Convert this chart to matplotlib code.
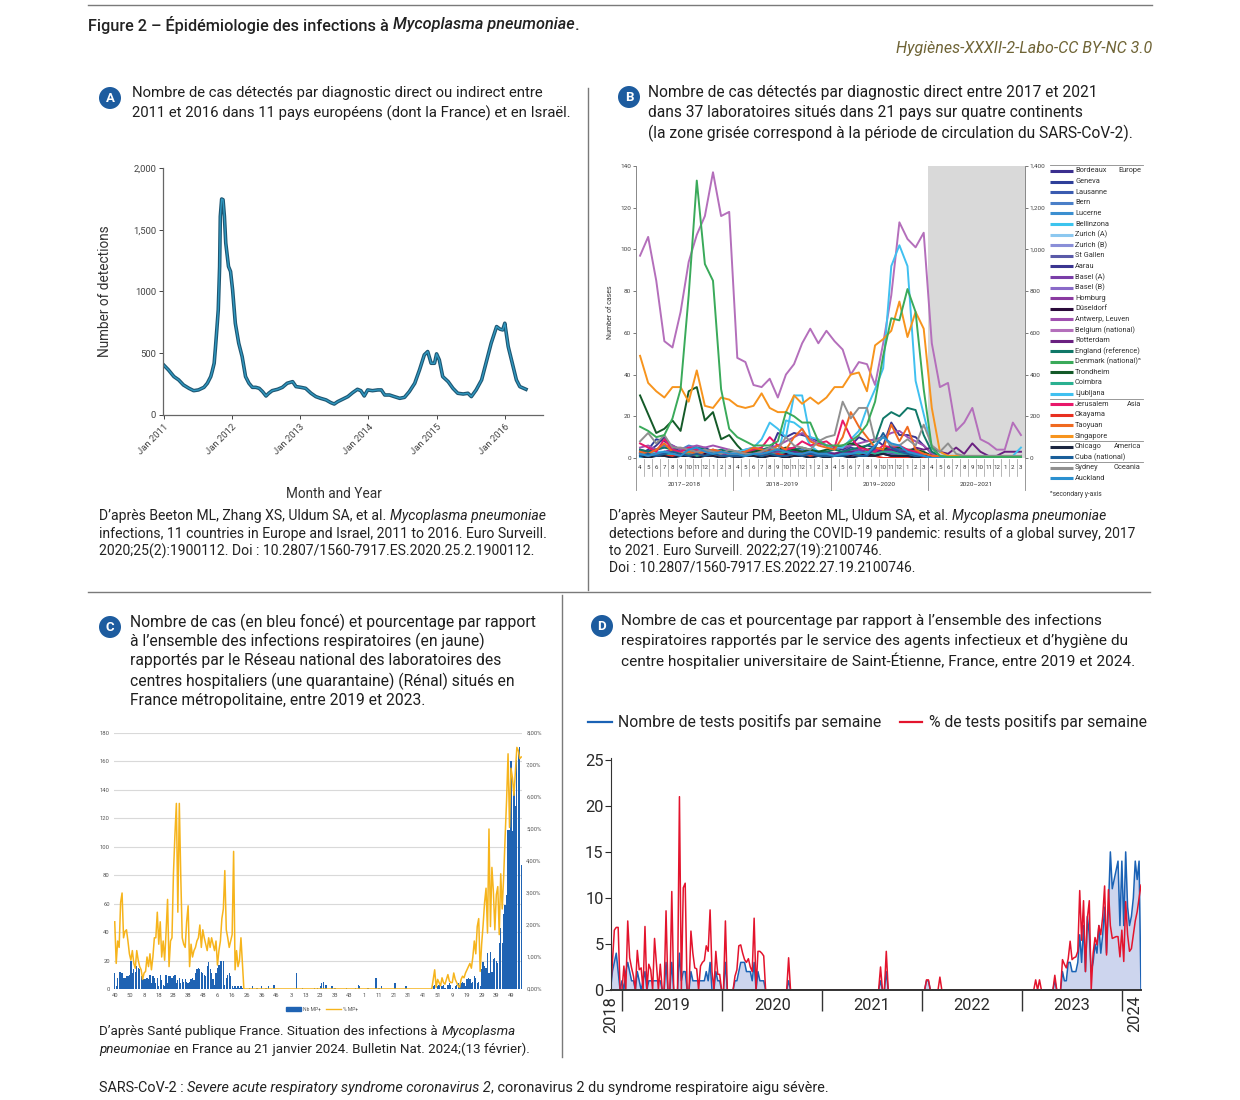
import numpy as np
import pandas as pd
import matplotlib
matplotlib.use('Agg')
import matplotlib.pyplot as plt
from matplotlib import font_manager as fm
from matplotlib.patches import Circle, Patch
from matplotlib.lines import Line2D

W, H = 1240, 1100

# ---------------- panel A : detections 2011-2016 ----------------
a_year = [2011.00, 2011.07, 2011.15, 2011.22, 2011.29, 2011.37, 2011.44, 2011.51, 2011.59, 2011.64,
          2011.69, 2011.71, 2011.74, 2011.76, 2011.78, 2011.80, 2011.82, 2011.83, 2011.85, 2011.87,
          2011.89, 2011.91, 2011.95, 2011.98, 2012.01, 2012.05, 2012.10, 2012.15, 2012.20, 2012.25,
          2012.30, 2012.35, 2012.40, 2012.45, 2012.50, 2012.54, 2012.59, 2012.67, 2012.74, 2012.81,
          2012.89, 2012.94, 2013.01, 2013.08, 2013.16, 2013.23, 2013.30, 2013.38, 2013.45, 2013.50,
          2013.55, 2013.62, 2013.70, 2013.77, 2013.84, 2013.89, 2013.94, 2013.99, 2014.06, 2014.14,
          2014.19, 2014.24, 2014.31, 2014.38, 2014.46, 2014.53, 2014.60, 2014.68, 2014.75, 2014.82,
          2014.87, 2014.92, 2014.97, 2015.00, 2015.04, 2015.09, 2015.17, 2015.24, 2015.31, 2015.39,
          2015.46, 2015.51, 2015.58, 2015.66, 2015.73, 2015.80, 2015.88, 2015.93, 2015.97, 2016.00,
          2016.05, 2016.11, 2016.17, 2016.22, 2016.31]
a_count = [405, 365, 311, 284, 243, 216, 197, 203, 224, 257,
           311, 351, 419, 554, 700, 851, 1203, 1608, 1749, 1743,
           1608, 1392, 1203, 1162, 1014, 743, 581, 473, 311, 257,
           224, 224, 216, 189, 154, 176, 197, 208, 224, 257,
           270, 230, 224, 216, 176, 149, 135, 122, 100, 89,
           108, 127, 149, 181, 208, 197, 154, 203, 197, 203,
           203, 162, 162, 149, 135, 143, 189, 257, 365, 487,
           514, 419, 419, 495, 446, 311, 270, 216, 176, 170,
           176, 149, 203, 284, 432, 581, 716, 695, 689, 743,
           554, 419, 284, 230, 208]
a_years = [2011, 2012, 2013, 2014, 2015, 2016]
a_yticks = [0, 500, 1000, 1500, 2000]
a_ylabels = ['0', '500', '1000', '1,500', '2,000']

# ---------------- panel B : 37 labs, Apr 2017 - Mar 2021 ----------------
b_month_labels = ['4', '5', '6', '7', '8', '9', '10', '11', '12', '1', '2', '3']
b_seasons = ['2017\u20132018', '2018\u20132019', '2019\u20132020', '2020\u20132021']

b_bordeaux = [3,2,1,2,1,1,2,1,1,2,1,2, 1,1,2,1,2,1,1,2,1,2,1,1, 1,2,1,1,2,1,3,2,1,1,2,1, 0,0,0,0,0,0,0,0,0,0,0,0]
b_geneva = [2,4,9,8,6,4,3,4,5,3,2,3, 2,3,4,2,3,3,4,5,3,2,2,3, 2,3,5,4,6,5,3,6,4,3,3,2, 0,0,0,0,0,0,0,0,0,0,0,1]
b_lausanne = [1,2,2,3,2,2,3,2,2,3,2,2, 1,2,2,1,2,2,3,2,2,1,1,2, 2,1,3,2,3,2,4,5,4,3,2,2, 0,0,0,0,0,0,0,0,0,0,0,0]
b_bern = [2,3,4,6,5,4,6,5,4,3,3,2, 2,3,3,4,3,2,3,3,4,3,2,2, 2,2,3,4,3,2,3,4,3,3,2,2, 1,0,0,0,0,0,0,0,0,0,0,0]
b_lucerne = [1,1,2,2,1,2,2,1,2,2,1,1, 1,1,1,2,1,1,2,2,1,1,1,1, 1,1,2,1,2,3,2,2,2,1,1,1, 0,0,0,0,0,0,0,0,0,0,0,0]
b_bellinzona = [0,1,1,2,1,1,1,1,2,1,1,1, 1,1,1,2,1,1,18,17,14,6,3,2, 1,1,1,2,3,4,3,2,2,1,1,1, 0,0,0,0,0,0,0,0,0,0,0,0]
b_zurich_a = [1,1,2,1,1,2,1,1,2,2,1,1, 1,1,1,2,2,1,1,2,2,1,1,1, 1,1,2,2,2,3,2,3,2,2,1,1, 0,0,0,0,0,0,0,0,0,0,0,0]
b_zurich_b = [2,2,3,2,3,3,2,2,3,2,2,2, 1,2,2,3,2,2,2,3,2,2,2,2, 2,2,3,3,3,4,3,3,3,2,2,2, 0,0,0,0,0,0,0,0,0,0,0,0]
b_st_gallen = [1,2,2,1,2,1,2,2,1,1,2,1, 1,1,2,1,1,2,1,2,1,1,1,1, 1,2,2,1,2,2,3,2,2,2,1,1, 0,0,0,0,0,0,0,0,0,0,0,0]
b_aarau = [4,3,6,10,5,3,4,3,4,3,2,3, 2,2,3,4,3,12,10,12,11,10,8,6, 5,4,6,10,8,9,6,17,11,11,10,6, 2,1,0,0,0,0,0,0,0,0,0,0]
b_basel_a = [2,2,3,2,2,3,2,2,3,2,2,2, 1,2,2,2,3,2,3,3,2,2,2,2, 2,2,2,3,3,4,3,3,3,2,2,2, 1,0,0,0,0,0,0,0,0,0,0,0]
b_basel_b = [1,1,2,1,1,2,1,1,1,1,1,1, 1,1,1,1,2,1,1,2,1,1,1,1, 1,1,2,2,2,2,2,3,2,2,1,1, 0,0,0,0,0,0,0,0,0,0,0,0]
b_homburg = [2,3,2,3,4,3,2,3,4,3,3,2, 2,2,3,3,4,3,3,4,3,3,2,2, 2,3,3,4,3,4,3,4,3,3,2,2, 1,1,1,0,1,0,0,0,0,0,0,0]
b_duseldorf = [1,1,1,2,1,1,1,1,2,1,1,1, 1,1,1,1,1,1,2,1,1,1,1,1, 1,1,1,2,1,2,2,1,1,1,1,1, 0,0,0,0,0,0,0,0,0,0,0,0]
b_antwerp = [5,6,4,5,6,4,5,6,5,6,5,4, 3,4,5,4,5,6,8,10,12,9,7,6, 5,5,6,7,8,9,10,12,13,10,8,6, 2,1,1,1,0,0,0,0,0,0,0,0]
b_belgium = [97,106,85,56,53,70,94,107,116,137,116,118, 48,46,35,34,38,29,40,45,55,62,55,61,
             56,52,40,46,45,35,55,78,113,105,101,108, 55,34,36,13,17,24,9,7,4,4,17,11]
b_rotterdam = [3,2,3,2,3,2,3,4,3,2,3,2, 2,2,3,2,3,4,3,3,2,2,3,2, 2,3,3,2,3,3,4,4,3,3,5,4, 5,3,2,5,2,7,3,1,1,3,3,3]
b_england = [4,3,4,5,4,3,4,5,4,3,4,3, 3,3,4,4,5,4,3,4,5,4,3,3, 4,3,4,5,6,8,19,22,20,24,23,11, 3,1,0,0,0,0,0,0,0,0,0,0]
# Denmark on the secondary y-axis
b_denmark = [150,130,100,110,190,330,780,1330,930,850,330,140, 100,80,60,60,60,80,220,200,170,170,80,60,
             60,60,80,110,160,270,490,670,660,810,700,330, 50,10,5,5,5,5,5,5,5,5,5,5]
b_trondheim = [30,21,12,14,18,13,32,34,18,22,9,11, 6,2,3,4,3,4,5,4,3,4,3,4, 5,6,7,6,4,5,4,6,5,4,4,3, 1,0,0,0,0,0,0,0,0,0,0,0]
b_coimbra = [1,1,2,1,2,1,2,1,1,2,1,1, 1,1,2,1,2,2,3,2,2,1,1,1, 1,2,2,2,3,2,3,3,2,2,1,1, 0,0,0,0,0,0,0,0,0,0,0,0]
b_ljubljana = [2,2,3,3,2,3,3,2,3,4,3,2, 3,4,5,9,17,14,10,30,30,10,9,6, 5,5,9,13,24,33,43,92,102,92,37,21, 5,1,1,1,1,1,1,1,1,1,1,5]
b_jerusalem = [7,5,3,9,4,3,5,4,3,4,3,2, 2,3,4,5,10,6,4,5,8,6,7,8, 5,18,10,5,4,3,6,5,6,4,3,2, 1,0,0,0,0,0,0,0,0,0,0,0]
b_okayama = [2,1,2,1,1,2,1,2,1,1,1,1, 1,1,1,2,1,2,1,1,2,1,1,1, 1,1,2,1,1,1,0,0,0,0,0,0, 0,0,0,0,0,0,0,0,0,0,0,0]
b_taoyuan = [3,2,4,7,3,2,3,2,3,4,3,2, 2,3,5,4,3,6,4,10,14,8,6,5, 4,10,22,15,10,5,4,16,8,15,4,2, 1,1,0,1,0,0,0,0,0,0,0,0]
b_singapore = [49,36,32,29,34,34,27,42,25,24,29,28, 25,24,25,31,24,22,22,30,26,29,26,29,
               34,34,40,41,32,54,57,61,75,58,70,62, 24,3,1,1,1,1,1,0,1,1,1,0]
b_chicago = [1,0,1,1,0,1,1,0,1,1,0,1, 0,1,1,0,1,1,0,1,1,0,1,0, 1,1,0,1,1,1,2,1,1,1,0,1, 0,0,0,0,0,0,0,0,0,0,0,0]
b_cuba = [1,2,1,2,3,2,1,2,1,2,1,1, 1,1,2,1,2,1,1,2,1,2,1,1, 1,1,2,1,1,5,12,5,3,2,1,1, 0,0,0,0,0,0,0,0,0,0,0,0]
b_sydney = [8,12,7,11,5,5,4,3,4,3,2,4, 3,2,2,3,5,4,10,6,5,4,8,10, 11,27,19,24,24,8,10,6,6,9,6,16, 6,3,7,2,1,1,1,1,1,1,1,1]
b_auckland = [2,1,2,3,2,1,4,5,3,2,3,2, 2,1,2,2,3,4,3,2,2,3,2,2, 1,2,2,3,2,6,10,7,6,3,2,1, 0,0,0,0,0,0,0,0,0,0,0,0]

b_labs = ['Bordeaux', 'Geneva', 'Lausanne', 'Bern', 'Lucerne', 'Bellinzona', 'Zurich (A)', 'Zurich (B)',
          'St Gallen', 'Aarau', 'Basel (A)', 'Basel (B)', 'Homburg', 'D\u00fcseldorf', 'Antwerp, Leuven',
          'Belgium (national)', 'Rotterdam', 'England (reference)', 'Denmark (national)\u1d43', 'Trondheim',
          'Coimbra', 'Ljubljana', 'Jerusalem', 'Okayama', 'Taoyuan', 'Singapore', 'Chicago',
          'Cuba (national)', 'Sydney', 'Auckland']
b_series = [b_bordeaux, b_geneva, b_lausanne, b_bern, b_lucerne, b_bellinzona, b_zurich_a, b_zurich_b,
            b_st_gallen, b_aarau, b_basel_a, b_basel_b, b_homburg, b_duseldorf, b_antwerp, b_belgium,
            b_rotterdam, b_england, b_denmark, b_trondheim, b_coimbra, b_ljubljana, b_jerusalem,
            b_okayama, b_taoyuan, b_singapore, b_chicago, b_cuba, b_sydney, b_auckland]
b_regions = {0: 'Europe', 22: 'Asia', 26: 'America', 28: 'Oceania'}
b_colors = ['#3b2f8f', '#2e3f99', '#3a5bb0', '#4a7fc8', '#3b8fd0', '#3cc4ee', '#8cc8f0', '#8a8fd8',
            '#5a5aa8', '#3a3590', '#7a3ea8', '#8a6ac8', '#8a3aa0', '#2a0a3a', '#a050b0', '#b46fbb',
            '#6a2080', '#107868', '#3aaa5a', '#145a28', '#2ab090', '#40c0f0', '#e8186a', '#e83020',
            '#f06a20', '#f7941d', '#1a2540', '#1a5f9a', '#909090', '#2a90d0']

# ---------------- panel C : Renal network, weekly ----------------
c_count = ([11,2,8,12,12,11,8,8,9,9,10, 20,11,14,12,16,15,14,9,7,7,7, 8,7,10,4,9,8,4,8,2,10,6,
            3,2,10,4,9,9,8,9,10,4,6, 8,4,7,5,7,5,4,5,7,8,6, 11,14,15,14,12,11,10,9,16,19,14,
            11,7,3,11,15,17,20,20,20,3,8, 10,11,9,2,1,2,1,2, 1,2,1]
           + [0,0,0,0,1,0,2,0,0,1,0,0,2,0,0,1]
           + [0,2,0,0,3,3,0,0,0,0,0,0,0,0,0,0]
           + [0,0,0,0,11,0,0,0,1,0,0,0,0,0,0,0]
           + [1,0,1,0,2,4,5,0,3,0,0,0,2,0,1,0]
           + [0,0,0,0,0,0,1,0,0,0,0,0,1,0,3,2]
           + [0,0,0,0,1,1,0,0,0,0,8,0,1,0,2,0]
           + [0,0,0,0,0,0,0,4,0,0,0,0,0,0,2,2]
           + [0,0,0,0,0,0,0,0,0,0,0,0,0,0,0,0]
           + [1,2,3,0,2,3,0,2,3,1,0,3,4,3,1,0,2,3,4,3,4,5,4,2,7,8,7,4,5,9,8,4,5,2]
           + [14,19,16,15,25,11,26,12,21,22,20,18,32,43,32,53,59,66,112,112,160,111,143,129,161,168,170,87])
c_pct = ([2.1,0.8,1.5,1.3,2.7,3.0,1.6,1.8,1.85,1.5, 1.1,0.9,1.2,0.8,0.65,1.2,0.9,0.7,0.6,0.3,
          0.5,0.55,1.0,0.7,1.1,0.6,1.0,1.6,1.6,2.4, 1.4,2.1,1.0,1.5,0.9,1.8,2.8,0.7,1.5,1.6,
          3.6,4.8,5.8,2.4,5.8,3.5,1.6,1.4,1.3,2.1, 2.6,0.7,1.4,1.0,1.2,1.3,1.5,1.6,2.0,1.3,
          1.85,1.6,1.4,1.2,1.6,1.3,1.6,1.4,1.2,1.5, 0.75,1.2,1.5,2.2,2.5,3.7,1.85,1.6,1.3,1.5,
          1.7,4.3,0.6,1.2,0.7,0.9,1.6,0.8,0.0]
         + [0.0] * 126
         + [0,0,0.3,0.6,0.05,0.3,0.2,0.1,0.35,0.2, 0.15,0.3,0.45,0.25,0.2,0.2,0.5,0.3,0.2,0.1,
            0.05,0.3,0.4,0.35,0.5,0.6,0.7,0.8,0.65,1.0, 1.5,1.1,1.95,2.2,0.55,1.4,2.0,2.7,3.15,1.75,
            5.0,1.95,3.8,3.05,1.85,2.95,3.2,1.7,3.6,2.5, 3.5,4.75,5.9,7.35,5.05,6.9,6.6,6.05,6.8,7.55,
            7.45,7.2,7.25])
c_week_labels = ['40', '50', '8', '18', '28', '38', '48', '6', '16', '26', '36', '46', '3', '13',
                 '23', '33', '43', '1', '11', '21', '31', '41', '51', '9', '19', '29', '39', '49']
c_pct_labels = ['0,00%', '1,00%', '2,00%', '3,00%', '4,00%', '5,00%', '6,00%', '7,00%', '8,00%']

# ---------------- panel D : CHU Saint-Etienne, weekly ----------------
d_start = '2018-11-19'
d_pct = ([0,3,6.5,6.8,6.8,0,0,2.6,0,7.5, 3.5,2.4,1.5,0,4.3,2.2,2.4,0,6.9,0,
          2.8,2.2,0,5.6,2.8,0,2.8,0,0,8.6, 0,0,10.7,0,0,0,21,0,11.1,11.6,
          0,0,6.4,4,2.4,2.3,0,2.6,3,3.2, 4.8,4.2,8.7,2,0,4.2,1.7,1.7,0,0,
          7.5,0,0,0,0,1.5,2.2,4.8,4.9,4, 3.3,3.0,3.4,2.5,2,7.8,0,4.2,4.2,4.0,
          3.7,0,0,0,0,0,0,0,0,0, 0,0,0,3.5,0]
         + [0] * 40
         + [0,0,0,0,0,0,2.5,0,0,4.2,0,0,0,0,0,0,0,0,0,0]
         + [0,0,0,0,0,0,0,0,0,0,1.1,1.1,0,0,0,0,0,1.4,0,0]
         + [0] * 40
         + [0,0,0,0,0,0,0,1.1,0,1.1,0,0,0,0,0,0,0,1.6,0,0]
         + [0,3.3,2.8,2.4,3.4,5.3,3.3,3.5,3.6,4.2, 10.8,5.4,9.7,2.0,7.8,9.7,0,4,5.7,4.9,
            7.0,6.0,8.0,11.3,3.8,10.9,7,5.6,5.7,5.8, 5.8,3.6,6.5,3.1,9.6,6,4.2,4.5,6,7.5,
            8.5,10,11.4])
d_count = ([0,2,3,4,2,0,1,0,2,3, 2,1,1,0,2,1,0,1,2,0,
            1,1,1,1,1,1,1,0,0,3, 0,0,3,0,0,0,4,1,2,2,
            0,0,2,1,1,1,1,1,1,1, 2,1,3,0,0,2,1,1,0,0,
            3,0,0,0,0,1,1,2,3,3, 3,2,2,2,1,3,0,2,1,1,
            1,0,0,0,0,0,0,0,0,0, 0,0,0,1,0]
           + [0] * 40
           + [0,0,0,0,0,0,1,0,0,2,0,0,0,0,0,0,0,0,0,0]
           + [0,0,0,0,0,0,0,0,0,0,1,1,0,0,0,0,0,0,0,0]
           + [0] * 40
           + [0,0,0,0,0,0,0,0,0,0,0,0,0,0,0,0,0,1,0,0]
           + [0,2,1,1,3,3,2,2,2,3, 6,3,7,2,8,6,2,3,5,4,
              7,4,6,9,4,9,15,11,12,13, 14,7,14,7,15,9,7,8,10,14,
              12,14,0])
d_years = [2019, 2020, 2021, 2022, 2023, 2024]

# ---------------- figure ----------------
avail = {f.name for f in fm.fontManager.ttflist}
TXT = next((n for n in ['Roboto', 'Inter', 'Liberation Sans'] if n in avail), 'DejaVu Sans')
plt.rcParams['font.family'] = [TXT, 'DejaVu Sans']

INK = '#222222'
BADGE = '#1d5c9f'

fig = plt.figure(figsize=(W / 100, H / 100), dpi=100)
fig.patch.set_facecolor('white')


def box(l, t, r, b):
    return [l / W, 1 - b / H, (r - l) / W, (b - t) / H]


ov = fig.add_axes([0, 0, 1, 1], zorder=10)
ov.set_xlim(0, W)
ov.set_ylim(H, 0)
ov.axis('off')
renderer = fig.canvas.get_renderer()


def text_w(s, **kw):
    t = ov.text(0, 0, '|' + s + '|', **kw)
    w1 = t.get_window_extent(renderer).width
    t.remove()
    t = ov.text(0, 0, '||', **kw)
    w0 = t.get_window_extent(renderer).width
    t.remove()
    return w1 - w0


def rich_line(x, y, segs, size, **kw):
    cur = x
    for s, st in segs:
        sp = text_w(' ', fontsize=size, fontstyle=st, **kw)
        lead = len(s) - len(s.lstrip(' '))
        trail = len(s) - len(s.rstrip(' '))
        cur += lead * sp
        core = s.strip(' ')
        if core:
            ov.text(cur, y, core, fontsize=size, fontstyle=st, ha='left', va='center', **kw)
            cur += text_w(core, fontsize=size, fontstyle=st, **kw)
        cur += trail * sp
    return cur - x


def fit_size(segs, target, base=10, **kw):
    w = sum(text_w(s, fontsize=base, fontstyle=st, **kw) for s, st in segs)
    return base * target / w


def para(x, ys, lines, target, ref=0, **kw):
    size = fit_size(lines[ref], target, **kw)
    for y, segs in zip(ys, lines):
        rich_line(x, y, segs, size, **kw)
    return size


def badge(x, y, letter):
    ov.add_patch(Circle((x, y), 11, color=BADGE, lw=0))
    ov.text(x, y + 0.5, letter, color='white', fontsize=9.5, fontweight='bold', ha='center', va='center')


N, I = 'normal', 'italic'

# frame lines
for xs, ys in [([88, 1152], [5, 5]), ([588, 588], [88, 590]), ([88, 1150], [592, 592]), ([562, 562], [595, 1057])]:
    ov.plot(xs, ys, color='#7a7a7a', lw=1.0)

# title and source
para(88, [25], [[('Figure 2 \u2013 \u00c9pid\u00e9miologie des infections \u00e0 ', N),
                 ('Mycoplasma pneumoniae', I), ('.', N)]], 492, color=INK, fontweight='medium')
src = 'Hygi\u00e8nes-XXXII-2-Labo-CC BY-NC 3.0'
hs = fit_size([(src, I)], 255)
ov.text(1152, 48, src, fontsize=hs, fontstyle='italic', color='#6f6436', ha='right', va='center')

# panel headers
HEAD = dict(color='#1e1e1e', fontweight='normal')
badge(110, 98, 'A')
para(132, [93, 113], [[('Nombre de cas d\u00e9tect\u00e9s par diagnostic direct ou indirect entre', N)],
                      [('2011 et 2016 dans 11 pays europ\u00e9ens (dont la France) et en Isra\u00ebl.', N)]],
     439, ref=1, **HEAD)
badge(629, 97, 'B')
para(648, [93, 113, 133], [[('Nombre de cas d\u00e9tect\u00e9s par diagnostic direct entre 2017 et 2021', N)],
                           [('dans 37 laboratoires situ\u00e9s dans 21 pays sur quatre continents', N)],
                           [('(la zone gris\u00e9e correspond \u00e0 la p\u00e9riode de circulation du SARS-CoV-2).', N)]],
     482, ref=2, **HEAD)
badge(110, 627, 'C')
para(130, [622, 641, 661, 681, 700],
     [[('Nombre de cas (en bleu fonc\u00e9) et pourcentage par rapport', N)],
      [('\u00e0 l\u2019ensemble des infections respiratoires (en jaune)', N)],
      [('rapport\u00e9s par le R\u00e9seau national des laboratoires des', N)],
      [('centres hospitaliers (une quarantaine) (R\u00e9nal) situ\u00e9s en', N)],
      [('France m\u00e9tropolitaine, entre 2019 et 2023.', N)]], 404, **HEAD)
badge(602, 626, 'D')
para(621, [621, 641, 661],
     [[('Nombre de cas et pourcentage par rapport \u00e0 l\u2019ensemble des infections', N)],
      [('respiratoires rapport\u00e9s par le service des agents infectieux et d\u2019hygi\u00e8ne du', N)],
      [('centre hospitalier universitaire de Saint-\u00c9tienne, France, entre 2019 et 2024.', N)]],
     514, ref=2, **HEAD)

# captions
para(99, [516, 534, 551],
     [[('D\u2019apr\u00e8s Beeton ML, Zhang XS, Uldum SA, et al. ', N), ('Mycoplasma pneumoniae', I)],
      [('infections, 11 countries in Europe and Israel, 2011 to 2016. Euro Surveill.', N)],
      [('2020;25(2):1900112. Doi : 10.2807/1560-7917.ES.2020.25.2.1900112.', N)]], 448, color=INK)
para(609, [516, 534, 551, 568],
     [[('D\u2019apr\u00e8s Meyer Sauteur PM, Beeton ML, Uldum SA, et al. ', N), ('Mycoplasma pneumoniae', I)],
      [('detections before and during the COVID-19 pandemic: results of a global survey, 2017', N)],
      [('to 2021. Euro Surveill. 2022;27(19):2100746.', N)],
      [('Doi : 10.2807/1560-7917.ES.2022.27.19.2100746.', N)]], 526, ref=1, color=INK)
para(99, [1031, 1049],
     [[('D\u2019apr\u00e8s Sant\u00e9 publique France. Situation des infections \u00e0 ', N), ('Mycoplasma', I)],
      [('pneumoniae', I), (' en France au 21 janvier 2024. Bulletin Nat. 2024;(13 f\u00e9vrier).', N)]],
     431, ref=1, color=INK)
para(99, [1088], [[('SARS-CoV-2 : ', N), ('Severe acute respiratory syndrome coronavirus 2', I),
                   (', coronavirus 2 du syndrome respiratoire aigu s\u00e9v\u00e8re.', N)]], 726, color=INK)

# ---------------- A ----------------
axA = fig.add_axes(box(163, 168, 543, 415))
axA.plot(a_year, a_count, color='#1e5672', lw=2.6, solid_joinstyle='round')
axA.plot(a_year, a_count, color='#2f98c0', lw=1.0, solid_joinstyle='round')
axA.set_xlim(2010.99, 2016.56)
axA.set_ylim(0, 2000)
for s in ['top', 'right']:
    axA.spines[s].set_visible(False)
for s in ['left', 'bottom']:
    axA.spines[s].set_color('#666666')
    axA.spines[s].set_linewidth(0.9)
axA.set_yticks(a_yticks)
axA.set_yticklabels(a_ylabels)
axA.set_xticks(a_years)
axA.set_xticklabels(['Jan %d' % y for y in a_years], rotation=45, ha='right', rotation_mode='anchor')
axA.tick_params(labelsize=6.8, colors='#444444', length=3, width=0.7, pad=2)
axA.set_ylabel('Number of detections', fontsize=9.8, color='#333333')
axA.yaxis.set_label_coords(-0.134, 0.5)
axA.set_xlabel('Month and Year', fontsize=9.8, color='#333333')
axA.xaxis.set_label_coords(0.45, -0.29)

# ---------------- B ----------------
axB = fig.add_axes(box(636, 166, 1025, 458))
axB2 = axB.twinx()
b_x = np.arange(48) + 0.5
axB.axvspan(36, 48, color='#d9d9d9', lw=0, zorder=0)
for name, col, vals in zip(b_labs, b_colors, b_series):
    target = axB2 if name.startswith('Denmark') else axB
    target.plot(b_x, vals, color=col, lw=1.4, solid_joinstyle='round')
axB.set_xlim(0, 48)
axB.set_ylim(0, 140)
axB2.set_ylim(0, 1400)
for a in (axB, axB2):
    for s in ['top', 'bottom']:
        a.spines[s].set_visible(False)
axB.spines['right'].set_visible(False)
axB2.spines['left'].set_visible(False)
axB.spines['left'].set_color('#888888')
axB2.spines['right'].set_color('#888888')
axB.spines['left'].set_linewidth(0.7)
axB2.spines['right'].set_linewidth(0.7)
axB.set_xticks([])
axB.set_yticks(range(0, 141, 20))
axB2.set_yticks(range(0, 1401, 200))
axB2.set_yticklabels(['{:,}'.format(v) for v in range(0, 1401, 200)])
for a in (axB, axB2):
    a.tick_params(labelsize=4.6, colors='#444444', length=2, width=0.5, pad=1.5)
axB.set_ylabel('Number of cases', fontsize=5, color='#333333')
axB.yaxis.set_label_coords(-0.057, 0.5)
tr = axB.get_xaxis_transform()
for i in range(48):
    axB.text(i + 0.5, -0.031, b_month_labels[i % 12], transform=tr, ha='center', va='center',
             fontsize=4.4, color='#333333')
    if i % 12:
        axB.plot([i, i], [-0.005, -0.062], transform=tr, color='#999999', lw=0.5, clip_on=False)
for k in range(5):
    axB.plot([12 * k, 12 * k], [0, -0.11], transform=tr, color='#888888', lw=0.6, clip_on=False)
for k, lab in enumerate(b_seasons):
    axB.text(12 * k + 6, -0.092, lab, transform=tr, ha='center', va='center', fontsize=4.6, color='#333333')

# B legend
for k, (name, col) in enumerate(zip(b_labs, b_colors)):
    y = 171 + 10.6 * k
    ov.plot([1050, 1073], [y, y], color=col, lw=2.2, solid_capstyle='butt')
    ov.text(1075, y, name, fontsize=5.3, color='#333333', ha='left', va='center')
    if k in b_regions:
        ov.text(1141, y, b_regions[k], fontsize=5.3, color='#333333', ha='right', va='center')
        ov.plot([1050, 1143], [y - 5.6, y - 5.6], color='#888888', lw=0.6)
ov.text(1050, 494, '\u1d43secondary y-axis', fontsize=4.8, color='#333333', ha='left', va='center')

# ---------------- C ----------------
axC = fig.add_axes(box(114, 733, 522, 989))
axC2 = axC.twinx()
c_x = np.arange(len(c_count))
axC.bar(c_x, c_count, width=0.85, color='#1f63b3', lw=0, label='Nb MP+')
axC2.plot(c_x, c_pct, color='#f6b41c', lw=1.1, label='% MP+')
axC.set_xlim(-0.5, len(c_count) - 0.5)
axC.set_ylim(0, 180)
axC2.set_ylim(0, 8)
axC.set_yticks(range(0, 181, 20))
axC.grid(axis='y', color='#d9d9d9', lw=0.8)
axC.set_axisbelow(True)
axC2.set_yticks(range(0, 9))
axC2.set_yticklabels(c_pct_labels)
axC.set_xticks(np.arange(0, 271, 10))
axC.set_xticklabels(c_week_labels)
for a in (axC, axC2):
    for s in a.spines.values():
        s.set_visible(False)
    a.tick_params(labelsize=4.2, colors='#555555', length=0, pad=3)
fig.legend(handles=[Patch(color='#1f63b3', label='Nb MP+'), Line2D([], [], color='#f6b41c', lw=1, label='% MP+')],
           loc='center', bbox_to_anchor=(322 / W, 1 - 1009 / H), ncol=2, fontsize=3.6, frameon=False,
           handlelength=3, handleheight=0.8, columnspacing=1.2, handletextpad=0.3, labelcolor='#555555')

# ---------------- D ----------------
axD = fig.add_axes(box(610.5, 758, 1141, 990))
d_dates = pd.date_range(d_start, periods=len(d_count), freq='7D')
axD.fill_between(d_dates, d_count, color='#cdd5ee', lw=0)
axD.plot(d_dates, d_count, color='#1a62b5', lw=1.1)
axD.plot(d_dates, d_pct, color='#e3142d', lw=1.1)
axD.set_xlim(d_dates[0], d_dates[-1])
axD.set_ylim(0, 25.2)
for s in ['top', 'right']:
    axD.spines[s].set_visible(False)
axD.spines['left'].set_color('#333333')
axD.spines['bottom'].set_color('#333333')
axD.spines['bottom'].set_linestyle((0, (1, 1)))
axD.spines['bottom'].set_linewidth(1.4)
axD.set_yticks(range(0, 26, 5))
axD.tick_params(axis='y', labelsize=11.8, colors='#2a2a2a', length=4, width=0.8, pad=1)
axD.set_xticks([pd.Timestamp('%d-01-01' % y) for y in d_years])
axD.set_xticklabels([''] * len(d_years))
axD.set_xticks([pd.Timestamp('%d-07-02' % y) for y in d_years[:-1]], minor=True)
axD.set_xticklabels([str(y) for y in d_years[:-1]], minor=True)
axD.tick_params(axis='x', which='major', length=15, width=1, color='#333333')
axD.tick_params(axis='x', which='minor', length=0, labelsize=11.8, labelcolor='#2a2a2a', pad=6)
ov.text(611, 1015, '2018', rotation=90, fontsize=11.8, color='#2a2a2a', ha='center', va='center')
ov.text(1135, 1014, '2024', rotation=90, fontsize=11.8, color='#2a2a2a', ha='center', va='center')

# D legend
ls1 = fit_size([('Nombre de tests positifs par semaine', N)], 265, fontweight='normal')
ov.plot([588, 612], [722, 722], color='#1a62b5', lw=1.6)
rich_line(618, 722, [('Nombre de tests positifs par semaine', N)], ls1, color=INK)
ov.plot([900, 922], [722, 722], color='#e3142d', lw=1.6)
rich_line(929, 722, [('% de tests positifs par semaine', N)], ls1, color=INK)

fig.savefig('out.png', dpi=100)
